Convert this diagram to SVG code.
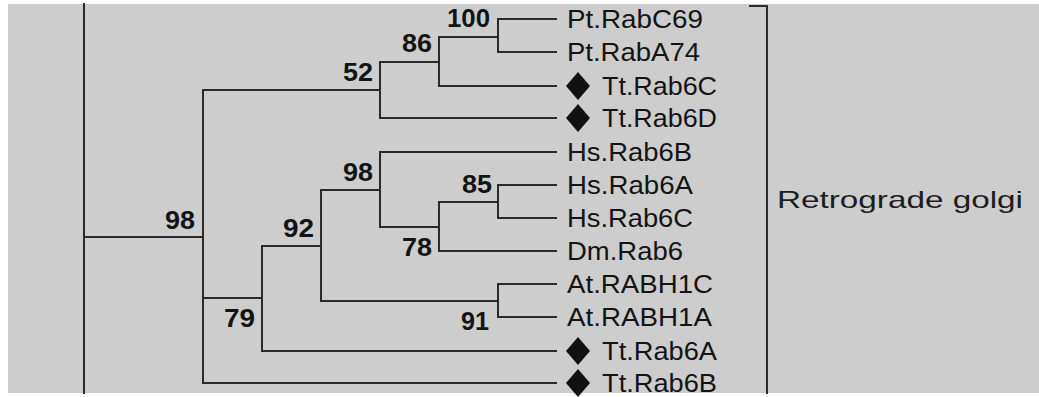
<svg xmlns="http://www.w3.org/2000/svg" width="1039" height="397" viewBox="0 0 1039 397">
  <style>
    .br { fill: none; stroke: #2a2a2a; stroke-width: 2; stroke-linecap: square; }
    .leaf { font-family: "Liberation Sans", Arial, sans-serif; font-size: 25px; fill: #141414; }
    .boot { font-family: "Liberation Sans", Arial, sans-serif; font-size: 26px; font-weight: bold; fill: #141414; }
    .clade { font-family: "Liberation Sans", Arial, sans-serif; font-size: 24px; fill: #1e1e1e; }
    .mark { fill: #111; }
  </style>
  <defs>
    <polygon id="diamond" points="0,-14 12,0 0,14 -12,0"/>
  </defs>

  <rect x="0" y="0" width="1039" height="397" fill="#ffffff"/>
  <rect x="8" y="4" width="1031" height="389" fill="#cdcdcd"/>

  <!-- tree branches -->
  <g id="connectors" class="br">
    <!-- root -->
    <path d="M84,4 V393 M84,237 H203"/>
    <!-- node 98 (Rab6 clade) -->
    <path d="M203,90 V383 M203,90 H380 M203,298 H262 M203,383 H556"/>
    <!-- node 52 -->
    <path d="M380,62 V118 M380,62 H439 M380,118 H556"/>
    <!-- node 86 -->
    <path d="M439,37 V86 M439,37 H498 M439,86 H556"/>
    <!-- node 100 -->
    <path d="M498,19 V52 M498,19 H556 M498,52 H556"/>
    <!-- node 79 -->
    <path d="M262,246 V351 M262,246 H321 M262,351 H556"/>
    <!-- node 92 -->
    <path d="M321,190 V301 M321,190 H380 M321,301 H498"/>
    <!-- node 98 (animal) -->
    <path d="M380,152 V227 M380,152 H556 M380,227 H439"/>
    <!-- node 78 -->
    <path d="M439,202 V251 M439,202 H498 M439,251 H556"/>
    <!-- node 85 -->
    <path d="M498,185 V218 M498,185 H556 M498,218 H556"/>
    <!-- node 91 -->
    <path d="M498,284 V317 M498,284 H556 M498,317 H556"/>
    <!-- clade bracket -->
    <path d="M750,6 H767 V393"/>
  </g>

  <!-- bootstrap values -->
  <g id="support" class="boot">
    <text x="447" y="27" textLength="43" lengthAdjust="spacingAndGlyphs">100</text>
    <text x="402" y="52" textLength="30" lengthAdjust="spacingAndGlyphs">86</text>
    <text x="343" y="81" textLength="30" lengthAdjust="spacingAndGlyphs">52</text>
    <text x="343" y="181" textLength="30" lengthAdjust="spacingAndGlyphs">98</text>
    <text x="462" y="193" textLength="30" lengthAdjust="spacingAndGlyphs">85</text>
    <text x="402" y="256" textLength="30" lengthAdjust="spacingAndGlyphs">78</text>
    <text x="283" y="237" textLength="31" lengthAdjust="spacingAndGlyphs">92</text>
    <text x="165" y="229" textLength="30" lengthAdjust="spacingAndGlyphs">98</text>
    <text x="224" y="327" textLength="31" lengthAdjust="spacingAndGlyphs">79</text>
    <text x="461" y="330" textLength="28" lengthAdjust="spacingAndGlyphs">91</text>
  </g>

  <!-- leaves -->
  <g id="leaf-PtRabC69"><text class="leaf" x="567" y="28" textLength="136" lengthAdjust="spacingAndGlyphs">Pt.RabC69</text></g>
  <g id="leaf-PtRabA74"><text class="leaf" x="567" y="61" textLength="133" lengthAdjust="spacingAndGlyphs">Pt.RabA74</text></g>
  <g id="leaf-TtRab6C"><use href="#diamond" class="mark" x="578" y="86"/><text class="leaf" x="602" y="95" textLength="115" lengthAdjust="spacingAndGlyphs">Tt.Rab6C</text></g>
  <g id="leaf-TtRab6D"><use href="#diamond" class="mark" x="578" y="118"/><text class="leaf" x="602" y="127" textLength="115" lengthAdjust="spacingAndGlyphs">Tt.Rab6D</text></g>
  <g id="leaf-HsRab6B"><text class="leaf" x="567" y="161" textLength="125" lengthAdjust="spacingAndGlyphs">Hs.Rab6B</text></g>
  <g id="leaf-HsRab6A"><text class="leaf" x="567" y="194" textLength="126" lengthAdjust="spacingAndGlyphs">Hs.Rab6A</text></g>
  <g id="leaf-HsRab6C"><text class="leaf" x="567" y="227" textLength="126" lengthAdjust="spacingAndGlyphs">Hs.Rab6C</text></g>
  <g id="leaf-DmRab6"><text class="leaf" x="567" y="260" textLength="116" lengthAdjust="spacingAndGlyphs">Dm.Rab6</text></g>
  <g id="leaf-AtRABH1C"><text class="leaf" x="567" y="293" textLength="146" lengthAdjust="spacingAndGlyphs">At.RABH1C</text></g>
  <g id="leaf-AtRABH1A"><text class="leaf" x="567" y="326" textLength="145" lengthAdjust="spacingAndGlyphs">At.RABH1A</text></g>
  <g id="leaf-TtRab6A"><use href="#diamond" class="mark" x="578" y="351"/><text class="leaf" x="602" y="360" textLength="115" lengthAdjust="spacingAndGlyphs">Tt.Rab6A</text></g>
  <g id="leaf-TtRab6B"><use href="#diamond" class="mark" x="578" y="383"/><text class="leaf" x="602" y="392" textLength="115" lengthAdjust="spacingAndGlyphs">Tt.Rab6B</text></g>

  <!-- clade label -->
  <g id="clade-retrograde-golgi">
    <text class="clade" x="777" y="208" textLength="246" lengthAdjust="spacingAndGlyphs">Retrograde golgi</text>
  </g>
</svg>
